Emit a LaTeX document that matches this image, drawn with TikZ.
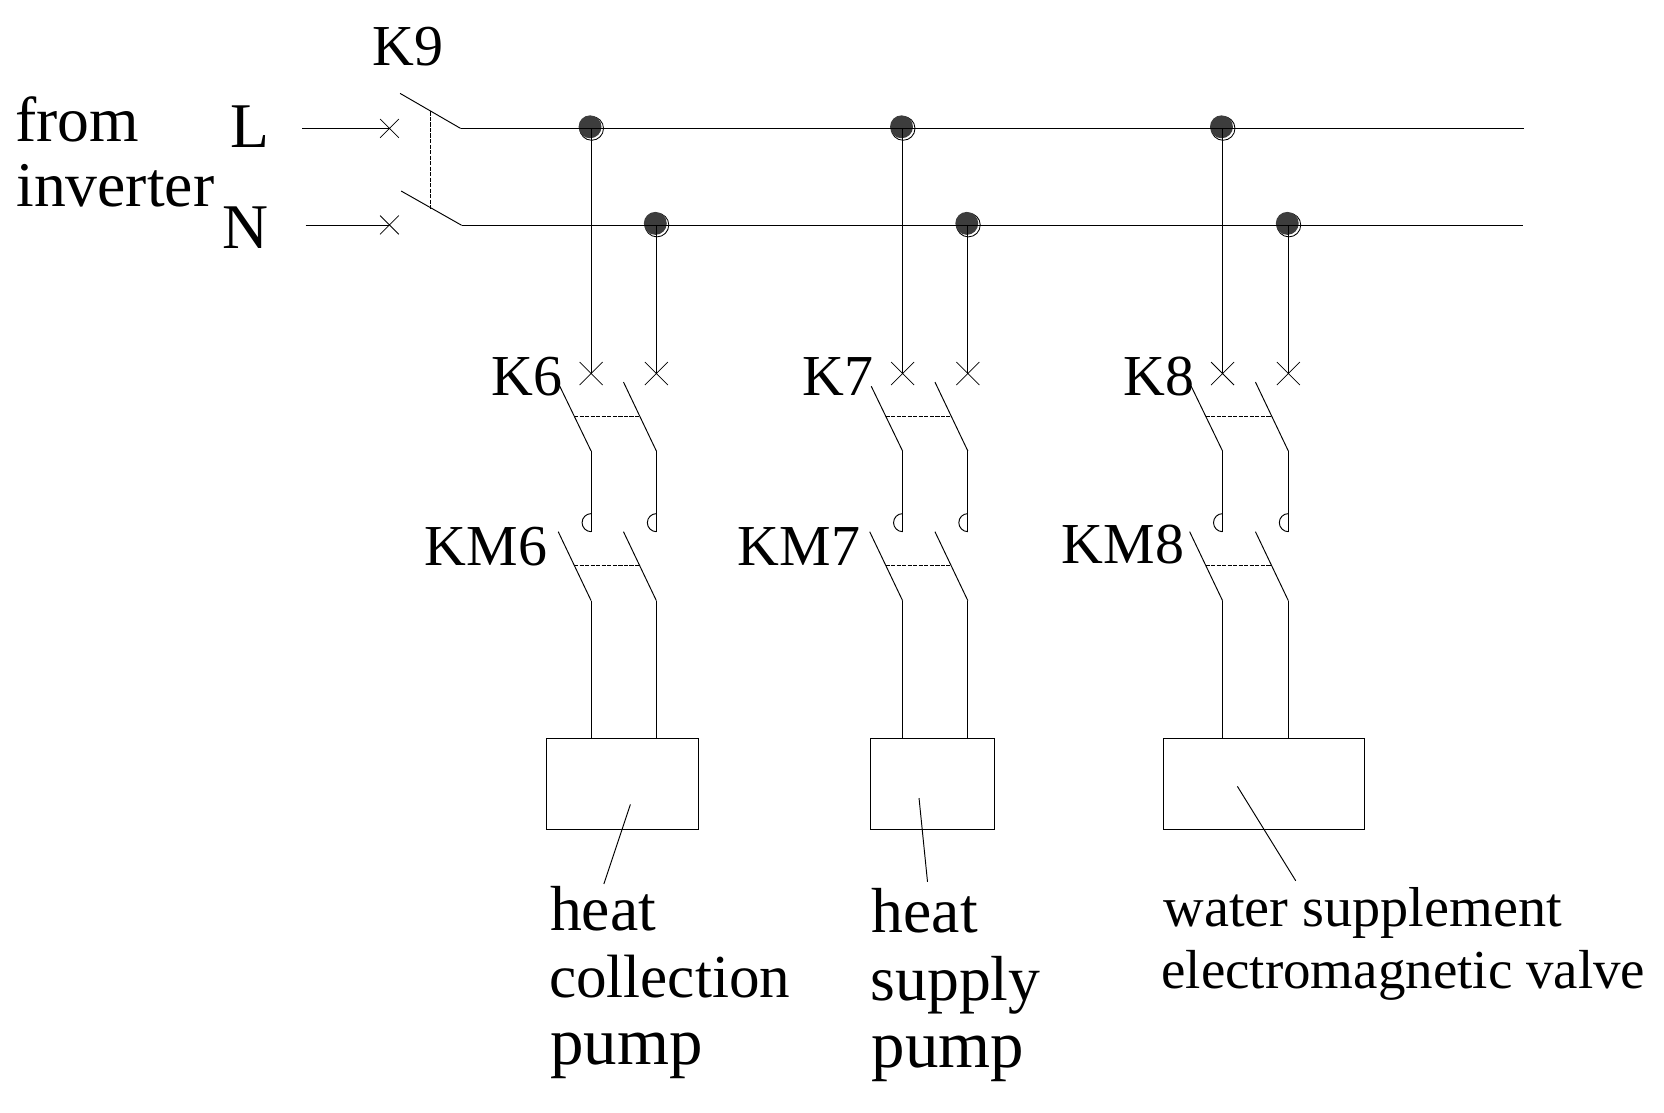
\documentclass[tikz,border=0pt]{standalone}
\usepackage{fontspec}
\setmainfont{Liberation Serif}
\usetikzlibrary{shapes.misc}
\tikzset{
  x=0.5pt,y=-0.5pt,
  wire/.style={line width=0.45pt,black},
  buswire/.style={line width=0.6pt,black},
  link/.style={line width=0.4pt,black,dash pattern=on 2pt off 0.6pt},
  xmark/.style={cross out,draw,line width=0.35pt,inner sep=0pt,minimum size=#1},
  xmark/.default=8.5pt,
  dotring/.style={circle,draw=black,line width=0.4pt,fill=white,inner sep=0pt,minimum size=11.2pt},
  dotball/.style={circle,fill=black!76,inner sep=0pt,minimum size=10.8pt},
  loadbox/.style={draw,line width=0.45pt,inner sep=0pt},
  lab/.style={inner sep=0pt,anchor=base west,font=\fontsize{30}{30}\selectfont},
  labk/.style={inner sep=0pt,anchor=base west,font=\fontsize{27.3}{30}\selectfont},
  labc/.style={inner sep=0pt,anchor=base west,font=\fontsize{28.8}{30}\selectfont},
  labp/.style={inner sep=0pt,anchor=base west,font=\fontsize{31.5}{30}\selectfont},
  labw/.style={inner sep=0pt,anchor=base west,font=\fontsize{26.5}{26}\selectfont},
  labe/.style={inner sep=0pt,anchor=base west,font=\fontsize{25.9}{26}\selectfont},
}
\newcommand{\busdots}[3]{%
  \node[dotring] (dl#1r) at (#2+0.5,121) {};
  \node[dotball] (dl#1) at (#2-1,119.5) {};
  \node[dotring] (dn#1r) at (#3+0.5,212) {};
  \node[dotball] (dn#1) at (#3-1,210.5) {};
}
\newcommand{\poles}[3]{%
  \node[xmark=10.5pt] (xl#1) at (#2,352) {};
  \node[xmark=10.5pt] (xn#1) at (#3,352) {};
  \draw[wire] (xl#1.center |- dl#1r.center) -- (xl#1.center);
  \draw[wire] (xn#1.center |- dn#1r.center) -- (xn#1.center);
  \coordinate (al#1) at (#2-29.5,364);
  \coordinate (bl#1) at (#2,425);
  \coordinate (an#1) at (#3-31,360);
  \coordinate (bn#1) at (#3,425);
  \draw[wire] (al#1) -- (bl#1);
  \draw[wire] (an#1) -- (bn#1);
  \coordinate (dsl#1) at (#2-16,392.3);
  \coordinate (dsn#1) at (#3-16.5,392.3);
  \draw[link] (dsl#1) -- (dsn#1);
  \coordinate (cl#1) at (#2,501);
  \coordinate (cn#1) at (#3,501);
  \draw[wire] (bl#1) -- (cl#1);
  \draw[wire] (bn#1) -- (cn#1);
  \draw[wire] (cl#1) arc[start angle=-90,end angle=-270,radius=4.25pt];
  \draw[wire] (cn#1) arc[start angle=-90,end angle=-270,radius=4.25pt];
  \coordinate (el#1) at (#2-31,501);
  \coordinate (fl#1) at (#2,566);
  \coordinate (en#1) at (#3-31,501);
  \coordinate (fn#1) at (#3,566);
  \draw[wire] (el#1) -- (fl#1);
  \draw[wire] (en#1) -- (fn#1);
  \coordinate (gsl#1) at (#2-16,533);
  \coordinate (gsn#1) at (#3-16.5,533);
  \draw[link] (gsl#1) -- (gsn#1);
}
\begin{document}
\begin{tikzpicture}
\useasboundingbox (0,0) rectangle (1568,1048);
\busdots{a}{557}{618.5}
\busdots{b}{850.5}{912}
\busdots{c}{1152}{1214}
% bus
\node[xmark] (xL) at (367,121) {};
\node[xmark] (xN) at (367,212) {};
\coordinate (inL) at (285,121);
\coordinate (inN) at (288,212.3);
\coordinate (bt1) at (377,88);
\coordinate (bb1) at (434,121);
\coordinate (bt2) at (378,180);
\coordinate (bb2) at (435,212.3);
\coordinate (endL) at (1436,121);
\coordinate (endN) at (1435,212.3);
\coordinate (ds1) at (406,105);
\coordinate (ds2) at (406,197);
\draw[wire] (inL) -- (xL.center);
\draw[wire] (inN) -- (xN.center |- inN);
\draw[wire] (bt1) -- (bb1);
\draw[wire] (bt2) -- (bb2);
\draw[buswire] (bb1) -- (endL);
\draw[buswire] (bb2) -- (endN);
\draw[link] (ds1) -- (ds2);
% poles
\poles{a}{557}{618.5}
\poles{b}{850.5}{912}
\poles{c}{1152}{1214}
% loads
\node[loadbox,minimum width=71.5pt,minimum height=43pt] (pa) at (586.5,739) {};
\node[loadbox,minimum width=58.5pt,minimum height=43pt] (pb) at (878.5,739) {};
\node[loadbox,minimum width=95pt,minimum height=43pt] (pc) at (1191,739) {};
\draw[wire] (fla) -- (fla |- pa.north);
\draw[wire] (fna) -- (fna |- pa.north);
\draw[wire] (flb) -- (flb |- pb.north);
\draw[wire] (fnb) -- (fnb |- pb.north);
\draw[wire] (flc) -- (flc |- pc.north);
\draw[wire] (fnc) -- (fnc |- pc.north);
% leaders
\coordinate (la1) at (594,758); \coordinate (la2) at (569,833);
\coordinate (lb1) at (866,752); \coordinate (lb2) at (874,831);
\coordinate (lc1) at (1166,741); \coordinate (lc2) at (1221,830);
\draw[wire] (la1) -- (la2);
\draw[wire] (lb1) -- (lb2);
\draw[wire] (lc1) -- (lc2);
% labels
\node[labk] (tk9) at (351,62) {K9};
\node[lab] (tfrom) at (14,133) {from};
\node[lab] (tinv) at (15,195) {inverter};
\node[lab] (tL) at (217,139) {L};
\node[lab] (tN) at (209,234) {N};
\node[labk] (tk6) at (463,373) {K6};
\node[labk] (tk7) at (756,373) {K7};
\node[labk] (tk8) at (1058,373) {K8};
\node[labk] (tkm6) at (400,533) {KM6};
\node[labk] (tkm7) at (695,533) {KM7};
\node[labk] (tkm8) at (1000,531) {KM8};
\node[lab] (th1) at (518,877) {heat};
\node[labc] (tc1) at (517,940) {collection};
\node[labp] (tp1) at (518,1003) {pump};
\node[lab] (th2) at (821,879) {heat};
\node[lab] (ts2) at (820,943) {supply};
\node[labp] (tp2) at (821,1006) {pump};
\node[labw] (tw3) at (1096,873) {water supplement};
\node[labe] (te3) at (1094,931) {electromagnetic valve};
\end{tikzpicture}
\end{document}
